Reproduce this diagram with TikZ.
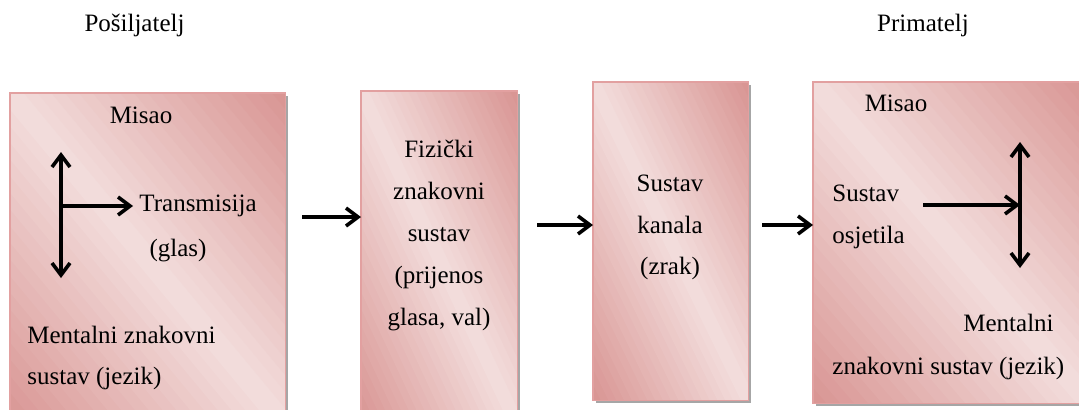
\documentclass[tikz,border=0pt]{standalone}
\usepackage{fontspec}
\setmainfont{Liberation Serif}
\usetikzlibrary{positioning, calc, arrows.meta}
\definecolor{rosedark}{RGB}{217,150,148}
\definecolor{roselight}{RGB}{243,222,221}
\definecolor{roseline}{RGB}{226,160,160}
\newcommand\boxfont{\rmfamily\fontsize{12.5}{20.9}\selectfont}
% diagonal rose gradient, shadow and border for a box node
\newcommand\roseshade[1]{%
  \fill[black!35] ([shift={(1.25pt,-1.25pt)}]#1.south west) rectangle ([shift={(1.25pt,-1.25pt)}]#1.north east);
  \begin{scope}
    \clip (#1.south west) rectangle (#1.north east);
    \begin{scope}[shift={(#1.south west)}, x={($(#1.south east)-(#1.south west)$)}, y={($(#1.north west)-(#1.south west)$)}]
      \foreach \k in {0,...,39} {
        \pgfmathsetmacro\mix{100*abs(\k-19.5)/19.5}
        \pgfmathsetmacro\lo{\k/20}
        \pgfmathsetmacro\hi{(\k+1.1)/20}
        \fill[rosedark!\mix!roselight] (\lo/2+1,\lo/2-1) -- (\lo/2-1,\lo/2+1) -- (\hi/2-1,\hi/2+1) -- (\hi/2+1,\hi/2-1) -- cycle;
      }
    \end{scope}
  \end{scope}
  \draw[roseline, line width=0.6pt] (#1.south west) rectangle (#1.north east);}

\begin{document}
\begin{tikzpicture}[x=0.5pt, y=-0.5pt,
    >={Straight Barb[length=6pt, width=9pt]},
    box/.style={rectangle, inner sep=0pt, anchor=north west},
    para/.style={inner sep=0pt, font=\boxfont},
    word/.style={para, text height=1.5ex, text depth=0.25ex},
    flow/.style={line width=1.8pt, ->}]
    \useasboundingbox (0,0) rectangle (1079,409);

    % boxes
    \node[box, minimum width=137.5pt, minimum height=166pt] (sender) at (10,93) {};
    \node[box, minimum width=78pt, minimum height=167pt] (code) at (361,91) {};
    \node[box, minimum width=77.5pt, minimum height=159pt] (channel) at (593,82) {};
    \node[box, minimum width=138.5pt, minimum height=160.5pt] (receiver) at (813,82) {};
    \roseshade{sender}
    \roseshade{code}
    \roseshade{channel}
    \roseshade{receiver}

    % titles
    \node[word] (from) at (134.5,26) {Pošiljatelj};
    \node[word] (to) at (923,26) {Primatelj};

    % sender
    \node[word] (s-thought) at (141,118) {Misao};
    \node[word] (trans) at (198,206) {Transmisija};
    \node[word] (voice) at (178,251) {(glas)};
    \node[para, align=left, anchor=west] (s-lang) at (27,358) {Mentalni znakovni\\sustav (jezik)};
    \coordinate (s-up) at (61,152);
    \coordinate (s-down) at (61,278);
    \draw[flow, <->] (s-up) -- (s-down);
    \draw[flow, shorten >=3pt] (s-up |- trans.west) -- (trans.west);

    % middle
    \node[para, align=center] (c-text) at (439,235.5) {Fizički\\znakovni\\sustav\\(prijenos\\glasa, val)};
    \node[para, align=center] (k-text) at (670,227.5) {Sustav\\kanala\\(zrak)};

    % receiver
    \node[word] (r-thought) at (896,106) {Misao};
    \node[para, align=left, anchor=west] (sense) at (832,216.5) {Sustav\\ osjetila};
    \node[word, anchor=west] (r-lang1) at (963,326) {Mentalni};
    \node[word, anchor=west] (r-lang2) at (832,369) {znakovni sustav (jezik)};
    \coordinate (r-up) at (1020,142);
    \coordinate (r-down) at (1020,268);
    \coordinate (r-in) at (923,205);
    \draw[flow, <->] (r-up) -- (r-down);
    \draw[flow] (r-in) -- (r-up |- r-in);

    % links
    \coordinate (a1) at (302,217);
    \coordinate (a2) at (537,225);
    \coordinate (a3) at (762,225);
    \draw[flow] (a1) -- (code.west |- a1);
    \draw[flow] (a2) -- (channel.west |- a2);
    \draw[flow] (a3) -- (receiver.west |- a3);
\end{tikzpicture}
\end{document}
